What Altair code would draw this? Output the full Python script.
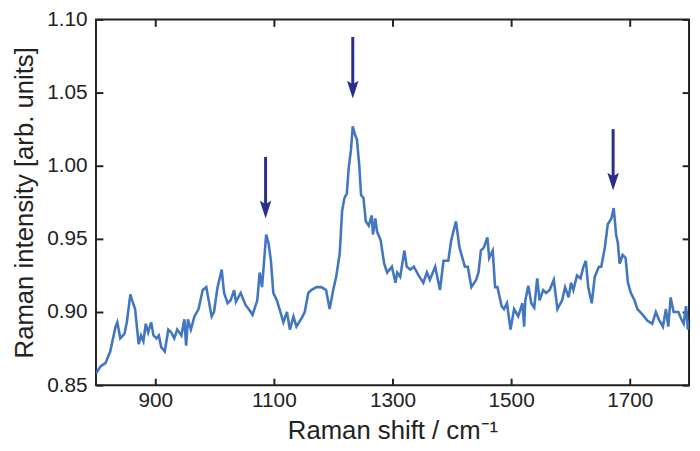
import altair as alt
import pandas as pd

shift = [800, 808, 816, 824, 833, 836, 841, 848, 852, 858, 861, 866, 872, 876, 880, 884, 888, 893, 897,
         902, 906, 910, 916, 922, 927, 932, 937, 944, 949, 952, 955, 960, 966, 973, 980, 986, 995, 999,
         1005, 1012, 1016, 1022, 1027, 1033, 1036, 1044, 1052, 1061, 1064, 1072, 1076, 1080, 1087, 1091,
         1095, 1099, 1105, 1111, 1116, 1122, 1127, 1133, 1138, 1147, 1152, 1158, 1163, 1172, 1180, 1188,
         1194, 1200, 1205, 1211, 1215, 1219, 1223, 1226, 1230, 1233, 1237, 1240, 1244, 1247, 1251, 1255,
         1260, 1265, 1267, 1271, 1274, 1280, 1286, 1291, 1299, 1305, 1308, 1313, 1320, 1324, 1330, 1336,
         1344, 1352, 1358, 1363, 1372, 1380, 1386, 1394, 1399, 1407, 1413, 1422, 1427, 1433, 1441, 1445,
         1449, 1454, 1460, 1463, 1469, 1473, 1477, 1484, 1488, 1493, 1499, 1505, 1512, 1519, 1522, 1524,
         1529, 1534, 1539, 1544, 1548, 1554, 1559, 1565, 1572, 1578, 1586, 1591, 1597, 1601, 1605, 1611,
         1617, 1622, 1626, 1630, 1636, 1641, 1648, 1652, 1658, 1663, 1669, 1673, 1677, 1680, 1683, 1688,
         1693, 1697, 1702, 1708, 1713, 1722, 1730, 1738, 1744, 1749, 1756, 1761, 1765, 1769, 1774, 1782,
         1787, 1791, 1795, 1798, 1800]
intensity = [0.858, 0.863, 0.865, 0.873, 0.890, 0.893, 0.882, 0.885, 0.893, 0.912, 0.908, 0.902, 0.878,
             0.884, 0.880, 0.892, 0.886, 0.893, 0.884, 0.882, 0.884, 0.876, 0.873, 0.888, 0.886, 0.882,
             0.888, 0.884, 0.895, 0.877, 0.895, 0.888, 0.897, 0.902, 0.915, 0.917, 0.897, 0.900, 0.917,
             0.929, 0.913, 0.906, 0.908, 0.915, 0.907, 0.913, 0.905, 0.900, 0.898, 0.908, 0.927, 0.917,
             0.953, 0.947, 0.935, 0.913, 0.908, 0.900, 0.893, 0.900, 0.888, 0.897, 0.890, 0.896, 0.900,
             0.913, 0.915, 0.917, 0.917, 0.915, 0.902, 0.915, 0.924, 0.940, 0.969, 0.978, 0.981, 0.998,
             1.011, 1.027, 1.021, 1.018, 1.000, 0.980, 0.978, 0.962, 0.959, 0.966, 0.953, 0.964, 0.955,
             0.949, 0.933, 0.927, 0.931, 0.920, 0.927, 0.924, 0.942, 0.931, 0.929, 0.931, 0.925, 0.920,
             0.927, 0.922, 0.931, 0.915, 0.935, 0.935, 0.949, 0.962, 0.944, 0.931, 0.931, 0.917, 0.922,
             0.927, 0.942, 0.944, 0.951, 0.937, 0.942, 0.917, 0.917, 0.904, 0.902, 0.906, 0.888, 0.902,
             0.897, 0.906, 0.890, 0.908, 0.918, 0.906, 0.903, 0.923, 0.908, 0.915, 0.913, 0.915, 0.922,
             0.902, 0.908, 0.917, 0.910, 0.920, 0.915, 0.925, 0.923, 0.931, 0.935, 0.917, 0.906, 0.924,
             0.931, 0.931, 0.944, 0.960, 0.964, 0.971, 0.953, 0.947, 0.933, 0.939, 0.937, 0.920, 0.913,
             0.908, 0.902, 0.898, 0.894, 0.892, 0.900, 0.895, 0.890, 0.902, 0.890, 0.910, 0.900, 0.900,
             0.895, 0.892, 0.904, 0.888, 0.894]

arrow_x = [1086, 1233, 1672]
arrow_top = [1.006, 1.088, 1.025]
arrow_tip = [0.964, 1.046, 0.983]

x_ticks = [900, 1100, 1300, 1500, 1700]
y_ticks = [0.85, 0.90, 0.95, 1.00, 1.05, 1.10]

LINE = "#4277C0"
ARROW = "#2B2D8C"
INK = "#222222"
FONT = "Liberation Sans"

spec = pd.DataFrame({"x": shift, "y": intensity})
arrows = pd.DataFrame({"x": arrow_x, "top": arrow_top, "tip": arrow_tip})
arrows["shaft_end"] = arrows["tip"] + 0.008

xs = alt.Scale(domain=[800, 1800], nice=False, zero=False)
ys = alt.Scale(domain=[0.85, 1.10], nice=False, zero=False)

line = alt.Chart(spec).mark_line(color=LINE, strokeWidth=2.6, clip=True).encode(
    x=alt.X("x:Q", scale=xs, axis=alt.Axis(
        orient="bottom", values=x_ticks, format="d", title="Raman shift / cm⁻¹", offset=-7, tickSize=7,
        domain=False, labelPadding=5, titlePadding=7, grid=False)),
    y=alt.Y("y:Q", scale=ys, axis=alt.Axis(
        orient="left", values=y_ticks, format=".2f", title="Raman intensity [arb. units]",
        offset=-7, tickSize=7, domain=False, labelPadding=9, titlePadding=9, grid=False)),
)

shafts = alt.Chart(arrows).mark_rule(color=ARROW, strokeWidth=3).encode(
    x=alt.X("x:Q", scale=xs, axis=alt.Axis(
        orient="top", values=x_ticks, labels=False, title=None, offset=-7, tickSize=7,
        domain=False, grid=False)),
    y=alt.Y("top:Q", scale=ys, axis=alt.Axis(
        orient="right", values=y_ticks, labels=False, title=None, offset=-7, tickSize=7,
        domain=False, grid=False)),
    y2="shaft_end:Q",
)

heads = alt.Chart(arrows).mark_point(
    shape="M0,0 L-0.65,-2 L0,-1.6 L0.65,-2 Z", filled=True, color=ARROW, opacity=1,
    size=324, strokeWidth=0,
).encode(
    x=alt.X("x:Q", scale=xs, axis=None),
    y=alt.Y("tip:Q", scale=ys, axis=None),
)

chart = alt.layer(line, shafts, heads).properties(
    width=600, height=370,
    autosize=alt.AutoSizeParams(type="none"),
    padding={"left": 89, "top": 9, "right": 3, "bottom": 60},
).configure_view(
    stroke=INK, strokeWidth=2
).configure_axis(
    labelFont=FONT, titleFont=FONT, labelFontSize=21, titleFontSize=26,
    labelColor=INK, titleColor=INK, tickColor=INK, tickWidth=2,
    titleFontWeight="normal",
)

chart.save("out.html", embed_options={"renderer": "svg", "actions": False})
